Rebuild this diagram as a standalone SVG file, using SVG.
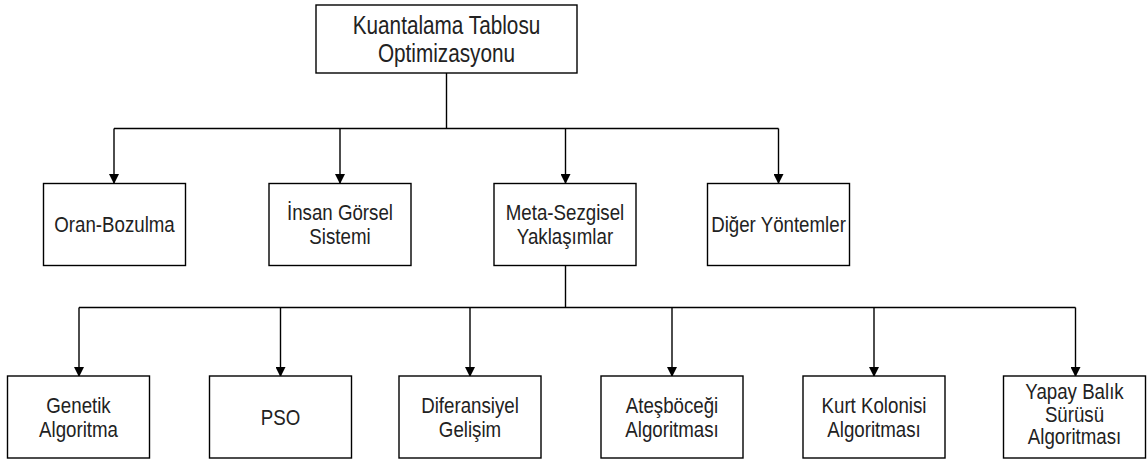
<svg xmlns="http://www.w3.org/2000/svg" width="1148" height="463" viewBox="0 0 1148 463">
<style>
.box{fill:#fff;stroke:#000;stroke-width:1.4}
.lbl{font-family:"Liberation Sans",Arial,sans-serif;font-size:22px;fill:#222;text-anchor:middle}
.top{font-size:25px}
.con{fill:none;stroke:#000;stroke-width:1.4}
</style>
<defs>
<marker id="arr" markerUnits="userSpaceOnUse" markerWidth="10" markerHeight="10" refX="9" refY="5" orient="auto">
<path d="M0,0 L10,5 L0,10 z" fill="#000"/>
</marker>
</defs>
<rect width="1148" height="463" fill="#fff"/>
<g id="connectors">
<path class="con" d="M446.5,73 V128.5"/>
<path class="con" d="M114,128.5 H778.5"/>
<path class="con" d="M114,128.5 V183" marker-end="url(#arr)"/>
<path class="con" d="M340,128.5 V183" marker-end="url(#arr)"/>
<path class="con" d="M565.5,128.5 V183" marker-end="url(#arr)"/>
<path class="con" d="M778.5,128.5 V183" marker-end="url(#arr)"/>
<path class="con" d="M565.5,266 V307.5"/>
<path class="con" d="M79,307.5 H1075.5"/>
<path class="con" d="M79,307.5 V376" marker-end="url(#arr)"/>
<path class="con" d="M280.5,307.5 V376" marker-end="url(#arr)"/>
<path class="con" d="M470,307.5 V376" marker-end="url(#arr)"/>
<path class="con" d="M672,307.5 V376" marker-end="url(#arr)"/>
<path class="con" d="M874,307.5 V376" marker-end="url(#arr)"/>
<path class="con" d="M1075.5,307.5 V376" marker-end="url(#arr)"/>
</g>
<g id="root">
<rect class="box" x="316" y="5" width="261" height="68"/>
<text class="lbl top" transform="matrix(0.83 0 0 1 446.5 0)" x="0" y="34">Kuantalama Tablosu</text>
<text class="lbl top" transform="matrix(0.83 0 0 1 446.5 0)" x="0" y="62.5">Optimizasyonu</text>
</g>
<g id="oran">
<rect class="box" x="43.5" y="183.5" width="142" height="82"/>
<text class="lbl" transform="matrix(0.85 0 0 1 114.5 0)" x="0" y="232">Oran-Bozulma</text>
</g>
<g id="insan">
<rect class="box" x="269" y="183.5" width="142" height="82"/>
<text class="lbl" transform="matrix(0.85 0 0 1 340 0)" x="0" y="220.5">İnsan Görsel</text>
<text class="lbl" transform="matrix(0.85 0 0 1 340 0)" x="0" y="244.5">Sistemi</text>
</g>
<g id="meta">
<rect class="box" x="494" y="183.5" width="142" height="82"/>
<text class="lbl" transform="matrix(0.85 0 0 1 565 0)" x="0" y="220">Meta-Sezgisel</text>
<text class="lbl" transform="matrix(0.85 0 0 1 565 0)" x="0" y="244">Yaklaşımlar</text>
</g>
<g id="diger">
<rect class="box" x="707.5" y="183.5" width="142" height="82"/>
<text class="lbl" transform="matrix(0.85 0 0 1 778.5 0)" x="0" y="232">Diğer Yöntemler</text>
</g>
<g id="genetik">
<rect class="box" x="7.5" y="376" width="142" height="82"/>
<text class="lbl" transform="matrix(0.85 0 0 1 78.5 0)" x="0" y="413">Genetik</text>
<text class="lbl" transform="matrix(0.85 0 0 1 78.5 0)" x="0" y="437.5">Algoritma</text>
</g>
<g id="pso">
<rect class="box" x="209.5" y="376" width="142" height="82"/>
<text class="lbl" transform="matrix(0.85 0 0 1 280.5 0)" x="0" y="425">PSO</text>
</g>
<g id="diferansiyel">
<rect class="box" x="399" y="376" width="142" height="82"/>
<text class="lbl" transform="matrix(0.85 0 0 1 470 0)" x="0" y="413">Diferansiyel</text>
<text class="lbl" transform="matrix(0.85 0 0 1 470 0)" x="0" y="437.5">Gelişim</text>
</g>
<g id="atesbocegi">
<rect class="box" x="601" y="376" width="142" height="82"/>
<text class="lbl" transform="matrix(0.85 0 0 1 672 0)" x="0" y="413">Ateşböceği</text>
<text class="lbl" transform="matrix(0.85 0 0 1 672 0)" x="0" y="437.5">Algoritması</text>
</g>
<g id="kurt">
<rect class="box" x="803" y="376" width="142" height="82"/>
<text class="lbl" transform="matrix(0.85 0 0 1 874 0)" x="0" y="413">Kurt Kolonisi</text>
<text class="lbl" transform="matrix(0.85 0 0 1 874 0)" x="0" y="437.5">Algoritması</text>
</g>
<g id="yapay">
<rect class="box" x="1003.5" y="376" width="142" height="82"/>
<text class="lbl" transform="matrix(0.85 0 0 1 1074.5 0)" x="0" y="399.5">Yapay Balık</text>
<text class="lbl" transform="matrix(0.85 0 0 1 1074.5 0)" x="0" y="422.5">Sürüsü</text>
<text class="lbl" transform="matrix(0.85 0 0 1 1074.5 0)" x="0" y="444.5">Algoritması</text>
</g>
</svg>
